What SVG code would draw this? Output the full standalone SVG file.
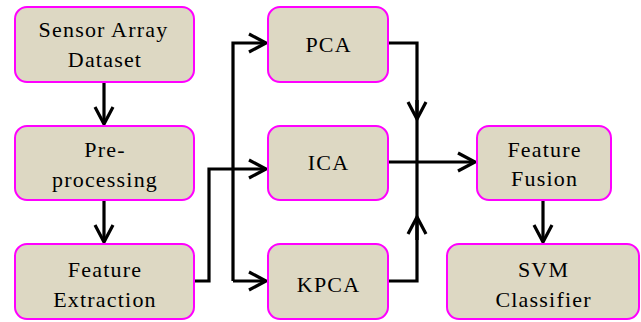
<svg xmlns="http://www.w3.org/2000/svg" width="641" height="322" viewBox="0 0 641 322">
<style>
.box{fill:#DDD8C3;stroke:#FF00FF;stroke-width:2}
.c{fill:none;stroke:#000;stroke-width:3.2;stroke-linejoin:miter}
</style>
<defs>
<marker id="ah" markerUnits="userSpaceOnUse" markerWidth="24" markerHeight="24" viewBox="-20 -12 24 24" refX="0" refY="0" orient="auto" overflow="visible">
<path d="M-17,-9 L0,0 L-17,9" fill="none" stroke="#000" stroke-width="3.2"/>
</marker>
</defs>
<rect width="641" height="322" fill="#fff"/>
<g id="connectors">
<path class="c" d="M104,82 V124" marker-end="url(#ah)"/>
<path class="c" d="M104,200 V242" marker-end="url(#ah)"/>
<path class="c" d="M194,281 H209 V169 H266" marker-end="url(#ah)"/>
<path class="c" d="M233,281 V43 H266" marker-end="url(#ah)"/>
<path class="c" d="M233,281 H266" marker-end="url(#ah)"/>
<path class="c" d="M388,43 H417 V281 H388"/>
<path class="c" d="M417,100 V119" marker-end="url(#ah)"/>
<path class="c" d="M417,240 V217" marker-end="url(#ah)"/>
<path class="c" d="M388,162 H475" marker-end="url(#ah)"/>
<path class="c" d="M543,200 V242" marker-end="url(#ah)"/>
</g>
<g font-family="Liberation Serif, DejaVu Serif, serif" font-size="22" letter-spacing="1.2" fill="#000" text-anchor="middle">
<g id="sensor">
<rect class="box" x="15" y="7" width="179" height="75" rx="12"/>
<text x="103.5" y="37">Sensor Array</text>
<text x="105" y="67">Dataset</text>
</g>
<g id="preprocessing">
<rect class="box" x="15" y="126" width="179" height="74" rx="12"/>
<text x="105" y="157">Pre-</text>
<text x="105" y="187">processing</text>
</g>
<g id="extraction">
<rect class="box" x="15" y="244" width="179" height="75" rx="12"/>
<text x="105" y="277">Feature</text>
<text x="105" y="307">Extraction</text>
</g>
<g id="pca">
<rect class="box" x="268" y="7" width="120" height="75" rx="12"/>
<text x="328.6" y="52">PCA</text>
</g>
<g id="ica">
<rect class="box" x="268" y="126" width="120" height="74" rx="12"/>
<text x="328.6" y="170">ICA</text>
</g>
<g id="kpca">
<rect class="box" x="268" y="244" width="120" height="75" rx="12"/>
<text x="328.6" y="292">KPCA</text>
</g>
<g id="fusion">
<rect class="box" x="477" y="126" width="134" height="74" rx="12"/>
<text x="544.6" y="157">Feature</text>
<text x="544.6" y="186">Fusion</text>
</g>
<g id="svm">
<rect class="box" x="447" y="244" width="192" height="75" rx="12"/>
<text x="543.6" y="277">SVM</text>
<text x="543.6" y="307">Classifier</text>
</g>
</g>
</svg>
